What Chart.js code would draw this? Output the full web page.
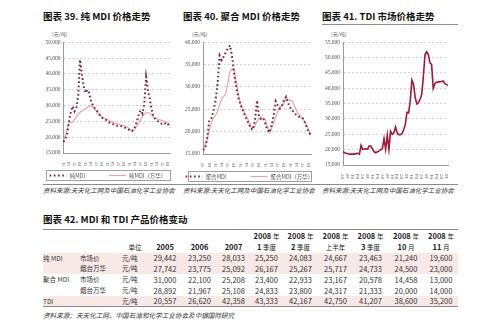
<!DOCTYPE html>
<html>
<head>
<meta charset="utf-8">
<script src="https://cdn.jsdelivr.net/npm/chart.js@4.4.1/dist/chart.umd.min.js"></script>
<style>
  html, body { margin: 0; padding: 0; background: #fff; }
  body {
    width: 500px; height: 327px; position: relative; overflow: hidden;
    font-family: "Liberation Sans Narrow", "Noto Sans CJK SC", sans-serif; color: #222;
  }
  .abs { position: absolute; white-space: nowrap; }
  .title { font-size: 9.5px; font-weight: bold; line-height: 1; color: #111; }
  .unit { font-size: 5px; color: #555; font-family: "Noto Sans CJK SC", sans-serif; line-height: 1; }
  .src { font-size: 6.5px; font-style: italic; color: #333; font-family: "Noto Sans CJK SC", sans-serif; line-height: 1; }
  .rule { position: absolute; height: 0; border-top: 1px solid #8c8c8c; }
  canvas { position: absolute; }
  #priceTable {
    position: absolute; left: 43px; top: 229px; width: 415px;
    border-collapse: collapse; table-layout: fixed;
    border-top: 1px solid #8c8c8c; border-bottom: 1px solid #8c8c8c;
    font-size: 7.5px; color: #333;
  }
  #priceTable td, #priceTable th { padding: 0; line-height: 1; white-space: nowrap; }
  #priceTable th { font-weight: bold; text-align: center; color: #222; }
  #priceTable th .cn, #priceTable td.cn { font-family: "Noto Sans CJK SC", sans-serif; font-weight: normal; font-size: 6.5px; }
  #priceTable td.num { text-align: center; }
  #priceTable tr.shade td { background: #f8e9e7; }
</style>
</head>
<body>

<div class="abs title" style="left:43px; top:12px;">图表 39. 纯 MDI 价格走势</div>
<div class="abs title" style="left:183px; top:12px;">图表 40. 聚合 MDI 价格走势</div>
<div class="abs title" style="left:322px; top:12px;">图表 41. TDI 市场价格走势</div>
<div class="rule" style="left:322px; top:24px; width:136px;"></div>

<div class="abs unit" style="left:52px; top:31px;">(元/吨)</div>
<div class="abs unit" style="left:192px; top:31px;">(元/吨)</div>
<div class="abs unit" style="left:331px; top:31px;">(元/吨)</div>

<canvas id="pureChart" width="137" height="148" style="left:40px; top:36px;"></canvas>
<canvas id="polyChart" width="140" height="148" style="left:178px; top:36px;"></canvas>
<canvas id="tdiChart" width="137" height="148" style="left:318px; top:36px;"></canvas>

<div class="rule" style="left:43px; top:184px; width:415px;"></div>
<div class="abs src" style="left:43px; top:187px;">资料来源:天天化工网及中国石油化学工业协会</div>
<div class="abs src" style="left:183px; top:187px;">资料来源:天天化工网及中国石油化学工业协会</div>
<div class="abs src" style="left:322px; top:187px;">资料来源:天天化工网及中国石油化学工业协会</div>

<div class="abs title" style="left:43px; top:215px;">图表 42. MDI 和 TDI 产品价格变动</div>
<table id="priceTable">
  <colgroup>
    <col style="width:37px"><col style="width:42px"><col style="width:26px">
    <col style="width:34px"><col style="width:35px"><col style="width:33px">
    <col style="width:33px"><col style="width:35px"><col style="width:35px">
    <col style="width:35px"><col style="width:36px"><col style="width:34px">
  </colgroup>
  <thead id="tableHead"></thead>
  <tbody id="tableBody"></tbody>
</table>
<div class="abs src" style="left:43px; top:312px; font-size:6.6px;">资料来源：天天化工网、中国石油和化学工业协会及中银国际研究</div>

<script>
// 纯MDI 月度价格 (元/吨)
const pureMonths = [
  '04-01','04-02','04-03','04-04','04-05','04-06','04-07','04-08','04-09','04-10','04-11','04-12',
  '05-01','05-02','05-03','05-04','05-05','05-06','05-07','05-08','05-09','05-10','05-11','05-12',
  '06-01','06-02','06-03','06-04','06-05','06-06','06-07','06-08','06-09','06-10','06-11','06-12',
  '07-01','07-02','07-03','07-04','07-05','07-06','07-07','07-08','07-09','07-10','07-11','07-12',
  '08-01','08-02','08-03','08-04','08-05','08-06','08-07','08-08','08-09','08-10','08-11'
];
const pureMarket = [
  18500, 19500, 21000, 25000, 28000, 29800, 28200, 29400, 33000, 44500, 40000, 36000,
  34000, 35000, 34000, 31500, 30000, 29200, 28500, 27700, 26800, 26200, 25900, 25500,
  25100, 24600, 24300, 24100, 23800, 23600, 23600, 23500, 23400, 23200, 22800, 22500,
  22200, 21900, 22200, 23300, 25000, 27200, 28500, 27500, 30600, 39000, 35000, 32000,
  28800, 26500, 25800, 25300, 24800, 24400, 24000, 24200, 24600, 24000, 23000
];
const pureWanhua = [
  19000, 20500, 22500, 24800, 24600, 24700, 25600, 26500, 27200, 27800, 28300, 28700,
  29000, 29400, 29800, 29800, 29600, 28900, 28200, 27500, 26900, 26300, 26000, 25800,
  25600, 25200, 24900, 24700, 24500, 24300, 24100, 23900, 23800, 23600, 23400, 23100,
  22600, 22000, 22200, 22700, 23600, 24400, 25600, 26500, 27300, 27700, 27800, 27600,
  27000, 26400, 26000, 25800, 25600, 25400, 25200, 25000, 24700, 24400, 24000
];

// 聚合MDI 月度价格 (元/吨)
const polyMonths = [
  '04-07','04-08','04-09','04-10','04-11','04-12',
  '05-01','05-02','05-03','05-04','05-05','05-06','05-07','05-08','05-09','05-10','05-11','05-12',
  '06-01','06-02','06-03','06-04','06-05','06-06','06-07','06-08','06-09','06-10','06-11','06-12',
  '07-01','07-02','07-03','07-04','07-05','07-06','07-07','07-08','07-09','07-10','07-11','07-12',
  '08-01','08-02','08-03','08-04','08-05','08-06','08-07','08-08','08-09','08-10','08-11'
];
const polyMarket = [
  16000, 16100, 18500, 22500, 23000, 24600,
  26800, 30700, 37000, 36000, 36800, 37800, 38700, 39300, 36800, 33000, 30000, 27600,
  26100, 25000, 23800, 22800, 21800, 20700, 20400, 22500, 27000, 23200, 22800, 23000,
  21800, 20400, 19800, 21400, 23500, 26800, 25900, 25200, 25800, 27000, 27800, 26400,
  25400, 24700, 24200, 23700, 23400, 23300, 23000, 22100, 20900, 19700, 19300
];
const polyWanhua = [
  16000, 17000, 18200, 20400, 21900, 23100,
  23600, 24500, 26100, 27300, 27900, 28600, 31000, 33500, 34100, 33700, 31200, 28400,
  26400, 25200, 24300, 23300, 22400, 21200, 20800, 21300, 22300, 23000, 23200, 23000,
  22600, 21200, 19800, 20600, 21900, 23200, 24500, 25500, 25800, 26400, 27300, 27200,
  27000, 26800, 25800, 24700, 24000, 23300, 22900, 22300, 21300, 20200, 19300
];

// TDI 市场价格 (元/吨)
const tdiMonths = [
  '03-07','03-08','03-09','03-10','03-11','03-12',
  '04-01','04-02','04-03','04-04','04-05','04-06','04-07','04-08','04-09','04-10','04-11','04-12',
  '05-01','05-02','05-03','05-04','05-05','05-06','05-07','05-08','05-09','05-10','05-11','05-12',
  '06-01','06-02','06-03','06-04','06-05','06-06','06-07','06-08','06-09','06-10','06-11','06-12',
  '07-01','07-02','07-03','07-04','07-05','07-06','07-07','07-08','07-09','07-10','07-11','07-12',
  '08-01','08-02','08-03','08-04','08-05','08-06','08-07','08-08','08-09','08-10','08-11'
];
const tdiPrice = [
  19300, 19000, 18800, 18650, 18550, 18550,
  18550, 18550, 18700, 18800, 18550, 21400, 20100, 20200, 20300, 20200, 21200, 21100,
  20200, 19300, 19000, 19300, 19600, 20000, 20300, 23600, 20100, 24700, 20100, 26000,
  25000, 25500, 27400, 25500, 24900, 24900, 25200, 26500, 28300, 32200, 32000, 36000,
  42700, 41300, 37000, 34900, 35300, 36500, 38000, 44000, 51000, 51900, 51000, 48300,
  47800, 40000, 41500, 42000, 42100, 42100, 42200, 42400, 41600, 41200, 41000
];

// 价格变动表
const periodYear = ['', '', '', '', '', '2008 年', '2008 年', '2008 年', '2008 年', '2008 年', '2008 年'];
const periodName = ['单位', '2005', '2006', '2007', '1 季度', '2 季度', '上半年', '3 季度', '10 月', '11 月'];
const pureMdiMarket = [29442, 23250, 28033, 25250, 24083, 24667, 23463, 21240, 19600];
const pureMdiWanhua = [27742, 23775, 25092, 26167, 25267, 25717, 24733, 24500, 23000];
const polyMdiMarket = [31000, 22100, 25208, 23400, 22933, 23167, 20578, 14458, 13000];
const polyMdiWanhua = [28892, 21967, 25108, 24833, 23800, 24317, 21333, 20000, 14000];
const tdiYearly = [20557, 26620, 42358, 43333, 42167, 42750, 41207, 38600, 35200];

const DOT_RED = '#7d1c3b';
const PINK = '#e9a3a3';
const TDI_RED = '#a5163a';

// legend drawn inside a thin frame under the x axis
const boxLegend = {
  id: 'boxLegend',
  afterDraw(chart, args, opts) {
    const ctx = chart.ctx, area = chart.chartArea;
    const x0 = Math.round(area.left - opts.inset), x1 = Math.round(area.right);
    const y0 = Math.round(area.bottom + opts.offset);
    ctx.save();
    ctx.strokeStyle = '#a0a0a0';
    ctx.lineWidth = 1;
    ctx.setLineDash([]);
    ctx.strokeRect(x0 + 0.5, y0 + 0.5, x1 - x0, opts.height);
    ctx.font = opts.fontSize + 'px "Noto Sans CJK SC"';
    ctx.textBaseline = 'middle';
    const items = chart.data.datasets.map(ds => ({ ds: ds, w: opts.sample + 3 + ctx.measureText(ds.label).width }));
    const total = items.reduce((s, it) => s + it.w, 0) + opts.gap * (items.length - 1);
    let x = (x0 + x1) / 2 - total / 2;
    const yc = y0 + opts.height / 2 + 0.5;
    items.forEach(it => {
      ctx.strokeStyle = it.ds.borderColor;
      ctx.lineWidth = it.ds.borderWidth;
      ctx.setLineDash(it.ds.borderDash || []);
      ctx.beginPath();
      ctx.moveTo(x, yc);
      ctx.lineTo(x + opts.sample, yc);
      ctx.stroke();
      ctx.setLineDash([]);
      ctx.fillStyle = '#555';
      ctx.fillText(it.ds.label, x + opts.sample + 3, yc);
      x += it.w + opts.gap;
    });
    ctx.restore();
  }
};

function priceChart(id, labels, datasets, yMin, yMax, frame, withLegend) {
  return new Chart(document.getElementById(id), {
    type: 'line',
    data: { labels: labels, datasets: datasets },
    plugins: withLegend ? [boxLegend] : [],
    options: {
      responsive: false,
      animation: false,
      devicePixelRatio: 1,
      layout: { padding: frame.padding },
      elements: { point: { radius: 0 }, line: { tension: 0 } },
      plugins: {
        legend: { display: false },
        tooltip: { enabled: false },
        boxLegend: { inset: frame.legendInset, offset: 17, height: 10, fontSize: 5.5, sample: 17, gap: 24 }
      },
      scales: {
        x: {
          grid: { display: false },
          border: { display: true, color: '#9a9a9a', width: 1 },
          afterFit: function (scale) { scale.height = frame.xHeight; },
          ticks: {
            autoSkip: false,
            minRotation: 90,
            maxRotation: 90,
            padding: 1,
            color: '#555',
            font: { family: 'Liberation Sans Narrow', size: 5 },
            callback: function (value, index) {
              return index % 3 === 0 ? this.getLabelForValue(value) : '';
            }
          }
        },
        y: {
          min: yMin,
          max: yMax,
          afterFit: function (scale) { scale.width = frame.yWidth; },
          grid: { color: '#c8c8c8', lineWidth: 0.8, drawTicks: false },
          border: { display: true, color: '#9a9a9a', width: 1, dash: [2, 2] },
          ticks: {
            stepSize: 5000,
            padding: 3,
            color: '#555',
            font: { family: 'Liberation Sans Narrow', size: 5.5 },
            callback: function (value) { return value.toLocaleString('en-US'); }
          }
        }
      }
    }
  });
}

priceChart('pureChart', pureMonths, [
  { label: '纯MDI', data: pureMarket, borderColor: DOT_RED, borderWidth: 2, borderDash: [1.6, 2.6] },
  { label: '纯MDI（万华）', data: pureWanhua, borderColor: PINK, borderWidth: 1.2 }
], 15000, 50000, { yWidth: 23.5, xHeight: 13, padding: { top: 6, right: 5, bottom: 18, left: 0 }, legendInset: 18 }, true);

priceChart('polyChart', polyMonths, [
  { label: '聚合MDI', data: polyMarket, borderColor: DOT_RED, borderWidth: 2, borderDash: [1.6, 2.6] },
  { label: '聚合MDI（万华）', data: polyWanhua, borderColor: PINK, borderWidth: 1.2 }
], 15000, 40000, { yWidth: 25, xHeight: 13, padding: { top: 6, right: 5, bottom: 17, left: 0 }, legendInset: 15 }, true);

priceChart('tdiChart', tdiMonths, [
  { label: 'TDI', data: tdiPrice, borderColor: TDI_RED, borderWidth: 1.6 }
], 15000, 55000, { yWidth: 25, xHeight: 14, padding: { top: 5, right: 5, bottom: 5, left: 0 }, legendInset: 0 }, false);

// 表格
(function () {
  const head = document.getElementById('tableHead');
  const body = document.getElementById('tableBody');
  const fmt = v => v.toLocaleString('en-US');
  const splitCn = s => s.replace(/([^\x00-\x7f]+)/g, '<span class="cn">$1</span>');

  let r1 = '<tr style="height:12px">';
  periodYear.forEach((t, i) => { r1 += '<th' + (i === 0 ? ' colspan="2"' : '') + '>' + splitCn(t) + '</th>'; });
  head.innerHTML = r1 + '</tr>';
  let r2 = '<tr style="height:11px"><th></th><th></th>';
  periodName.forEach(t => { r2 += '<th>' + splitCn(t) + '</th>'; });
  head.innerHTML += r2 + '</tr>';

  const rows = [
    ['纯 MDI', '市场价', pureMdiMarket, true],
    ['', '烟台万华', pureMdiWanhua, true],
    ['聚合 MDI', '市场价', polyMdiMarket, false],
    ['', '烟台万华', polyMdiWanhua, false],
    ['TDI', '', tdiYearly, true]
  ];
  let html = '';
  rows.forEach(r => {
    html += '<tr style="height:10.8px"' + (r[3] ? ' class="shade"' : '') + '>';
    html += '<td class="cn">' + r[0] + '</td><td class="cn">' + r[1] + '</td><td class="cn">元/吨</td>';
    r[2].forEach(v => { html += '<td class="num">' + fmt(v) + '</td>'; });
    html += '</tr>';
  });
  body.innerHTML = html;
})();
</script>
</body>
</html>
